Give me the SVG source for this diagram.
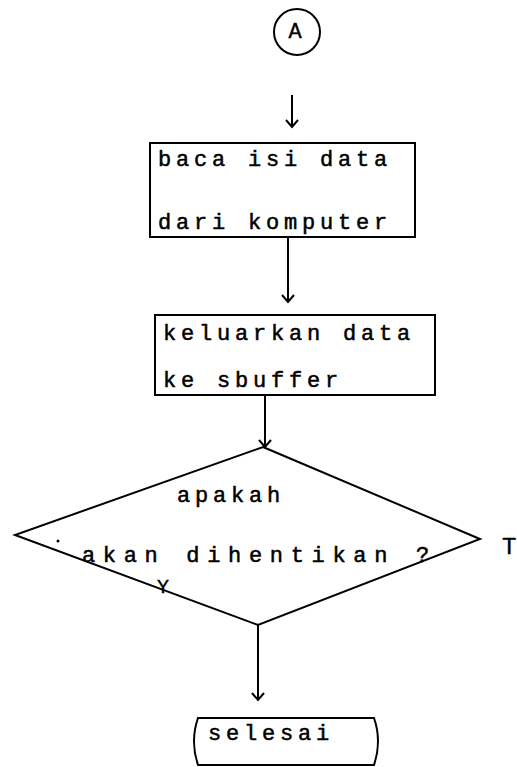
<svg xmlns="http://www.w3.org/2000/svg" width="517" height="767" viewBox="0 0 517 767">
<defs>
<style>
.ln{fill:none;stroke:#000;stroke-width:2}
.ah{fill:none;stroke:#000;stroke-width:2}
.tx{font-family:"Liberation Mono","DejaVu Sans Mono",monospace;font-size:22px;letter-spacing:4.8px;fill:#000;stroke:#000;stroke-width:0.5}
.lb{font-family:"Liberation Mono","DejaVu Sans Mono",monospace;fill:#000;stroke:#000;stroke-width:0.4}
</style>
</defs>
<rect width="517" height="767" fill="#fff"/>
<g id="connectors">
<line class="ln" x1="292" y1="95" x2="292" y2="127"/>
<path class="ah" d="M286,120 L292,127 L298,120"/>
<line class="ln" x1="288" y1="237" x2="288" y2="302"/>
<path class="ah" d="M282,295 L288,302 L294,295"/>
<line class="ln" x1="265" y1="395" x2="265" y2="447"/>
<path class="ah" d="M259,440 L265,447 L271,440"/>
<line class="ln" x1="258" y1="625" x2="258" y2="700"/>
<path class="ah" d="M252,693 L258,700 L264,693"/>
</g>
<g id="nodeA">
<circle class="ln" cx="297" cy="32" r="23" stroke-width="2.5"/>
<text class="lb" x="295" y="38" text-anchor="middle" font-size="22">A</text>
</g>
<g id="box1">
<rect class="ln" x="150" y="143" width="265" height="94"/>
<text class="tx" x="158" y="166">baca isi data</text>
<text class="tx" x="158" y="229">dari komputer</text>
</g>
<g id="box2">
<rect class="ln" x="155" y="315" width="280" height="80"/>
<text class="tx" x="163" y="340">keluarkan data</text>
<text class="tx" x="163" y="387">ke sbuffer</text>
</g>
<g id="decision">
<polygon class="ln" points="263,447 480,539 258,625 15,535"/>
<text class="tx" x="177" y="502">apakah</text>
<circle cx="58" cy="541" r="1.5" fill="#000"/>
<text class="tx" x="82" y="562" textLength="352" lengthAdjust="spacing">akan dihentikan ?</text>
<text class="lb" x="502" y="554" font-size="24">T</text>
<text class="lb" x="157" y="593" font-size="20">Y</text>
</g>
<g id="selesai">
<path class="ln" d="M198,718 L374,718 Q382,741 374,765 L198,765 Q190,741 198,718 Z"/>
<text class="tx" x="208" y="740">selesai</text>
</g>
</svg>
